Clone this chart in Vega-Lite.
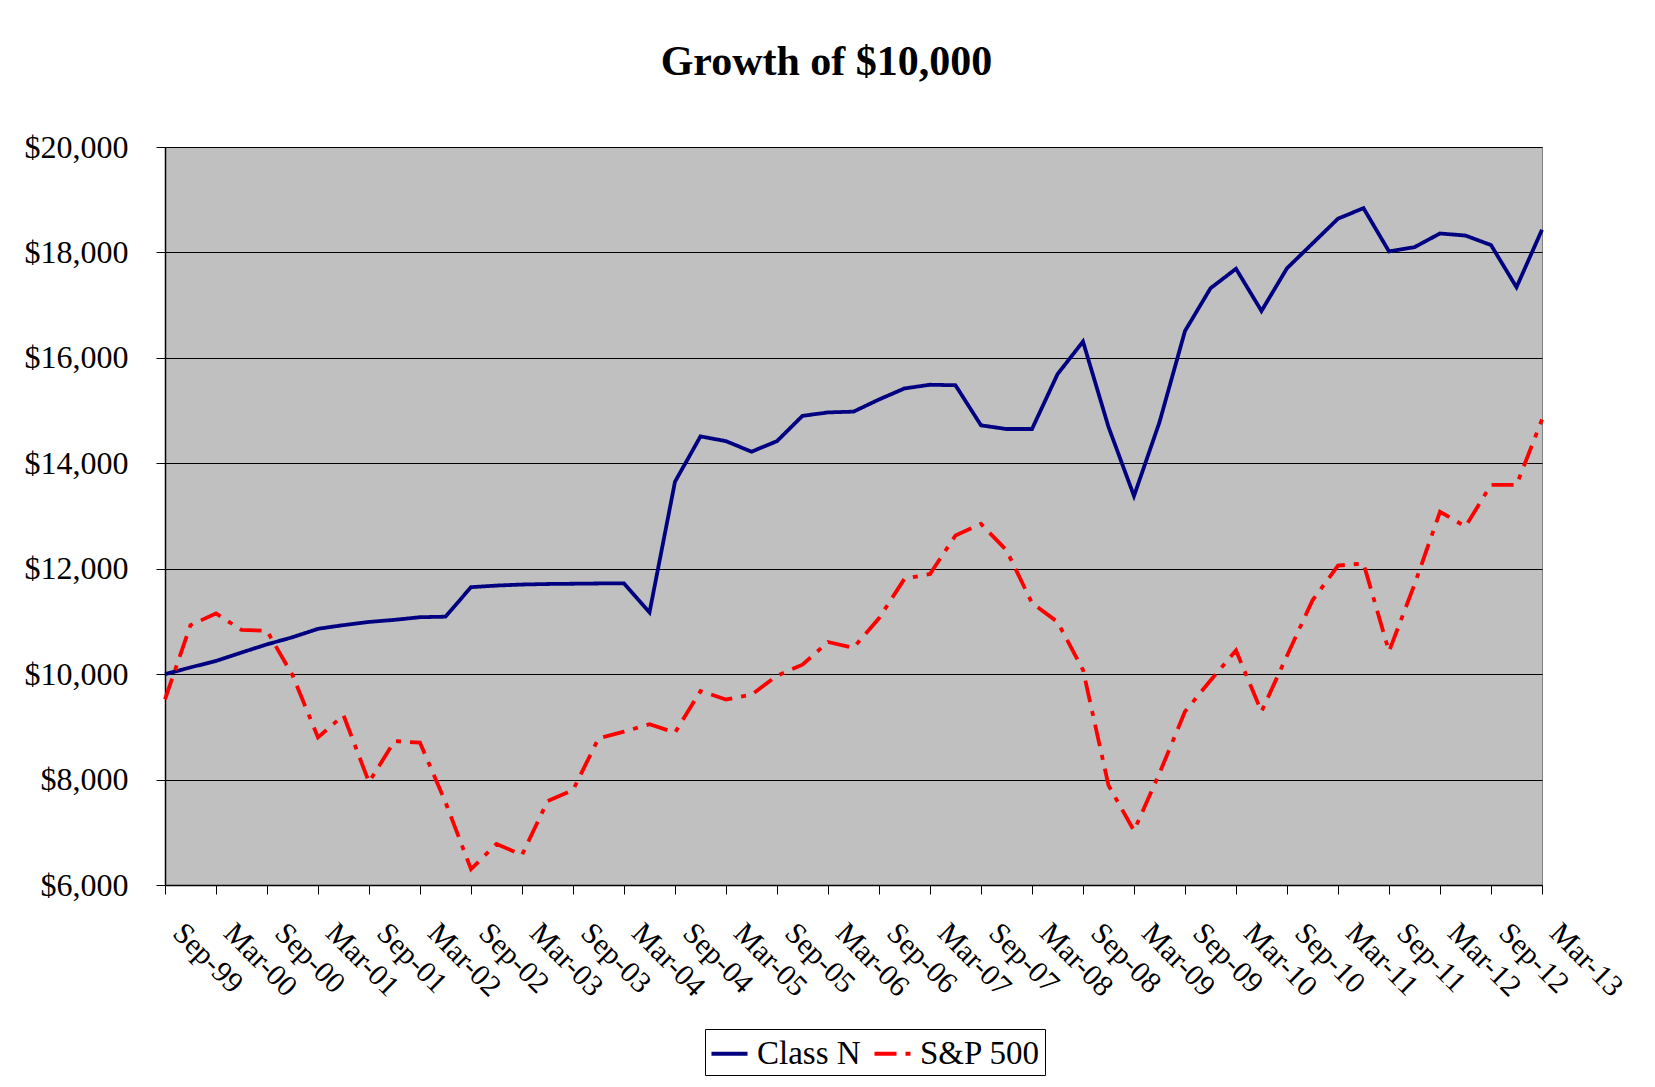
{
  "$schema": "https://vega.github.io/schema/vega-lite/v6.json",
  "width": 1377,
  "height": 738,
  "autosize": {"type": "none"},
  "padding": {"left": 165, "top": 147, "right": 113, "bottom": 202},
  "background": "white",
  "title": {
    "text": "Growth of $10,000",
    "font": "Liberation Serif",
    "fontSize": 42,
    "fontWeight": "bold",
    "color": "black",
    "anchor": "middle",
    "frame": "group",
    "dx": -27,
    "baseline": "alphabetic",
    "offset": 14
  },
  "config": {
    "view": {"fill": "#C0C0C0", "stroke": "#808080", "strokeWidth": 1}
  },
  "data": {
    "values": [
      {"period": "Sep-99", "Class N": 10000, "S&P 500": 9520},
      {"period": "Dec-99", "Class N": 10128, "S&P 500": 10930},
      {"period": "Mar-00", "Class N": 10250, "S&P 500": 11150},
      {"period": "Jun-00", "Class N": 10410, "S&P 500": 10840},
      {"period": "Sep-00", "Class N": 10565, "S&P 500": 10820},
      {"period": "Dec-00", "Class N": 10700, "S&P 500": 9980},
      {"period": "Mar-01", "Class N": 10860, "S&P 500": 8800},
      {"period": "Jun-01", "Class N": 10930, "S&P 500": 9220},
      {"period": "Sep-01", "Class N": 10990, "S&P 500": 7950},
      {"period": "Dec-01", "Class N": 11030, "S&P 500": 8730},
      {"period": "Mar-02", "Class N": 11080, "S&P 500": 8700},
      {"period": "Jun-02", "Class N": 11090, "S&P 500": 7570},
      {"period": "Sep-02", "Class N": 11650, "S&P 500": 6300},
      {"period": "Dec-02", "Class N": 11680, "S&P 500": 6780},
      {"period": "Mar-03", "Class N": 11700, "S&P 500": 6570},
      {"period": "Jun-03", "Class N": 11710, "S&P 500": 7590},
      {"period": "Sep-03", "Class N": 11715, "S&P 500": 7800},
      {"period": "Dec-03", "Class N": 11720, "S&P 500": 8780},
      {"period": "Mar-04", "Class N": 11720, "S&P 500": 8910},
      {"period": "Jun-04", "Class N": 11170, "S&P 500": 9050},
      {"period": "Sep-04", "Class N": 13650, "S&P 500": 8890},
      {"period": "Dec-04", "Class N": 14510, "S&P 500": 9680},
      {"period": "Mar-05", "Class N": 14420, "S&P 500": 9520},
      {"period": "Jun-05", "Class N": 14220, "S&P 500": 9610},
      {"period": "Sep-05", "Class N": 14420, "S&P 500": 9970},
      {"period": "Dec-05", "Class N": 14900, "S&P 500": 10180},
      {"period": "Mar-06", "Class N": 14965, "S&P 500": 10610},
      {"period": "Jun-06", "Class N": 14980, "S&P 500": 10500},
      {"period": "Sep-06", "Class N": 15210, "S&P 500": 11060},
      {"period": "Dec-06", "Class N": 15420, "S&P 500": 11810},
      {"period": "Mar-07", "Class N": 15490, "S&P 500": 11900},
      {"period": "Jun-07", "Class N": 15480, "S&P 500": 12630},
      {"period": "Sep-07", "Class N": 14720, "S&P 500": 12850},
      {"period": "Dec-07", "Class N": 14650, "S&P 500": 12350},
      {"period": "Mar-08", "Class N": 14650, "S&P 500": 11350},
      {"period": "Jun-08", "Class N": 15690, "S&P 500": 10990},
      {"period": "Sep-08", "Class N": 16310, "S&P 500": 10080},
      {"period": "Dec-08", "Class N": 14690, "S&P 500": 7890},
      {"period": "Mar-09", "Class N": 13380, "S&P 500": 7030},
      {"period": "Jun-09", "Class N": 14780, "S&P 500": 8120},
      {"period": "Sep-09", "Class N": 16510, "S&P 500": 9290},
      {"period": "Dec-09", "Class N": 17320, "S&P 500": 9880},
      {"period": "Mar-10", "Class N": 17690, "S&P 500": 10450},
      {"period": "Jun-10", "Class N": 16890, "S&P 500": 9290},
      {"period": "Sep-10", "Class N": 17700, "S&P 500": 10350},
      {"period": "Dec-10", "Class N": 18170, "S&P 500": 11400},
      {"period": "Mar-11", "Class N": 18640, "S&P 500": 12060},
      {"period": "Jun-11", "Class N": 18840, "S&P 500": 12100},
      {"period": "Sep-11", "Class N": 18020, "S&P 500": 10430},
      {"period": "Dec-11", "Class N": 18100, "S&P 500": 11700},
      {"period": "Mar-12", "Class N": 18360, "S&P 500": 13080},
      {"period": "Jun-12", "Class N": 18320, "S&P 500": 12800},
      {"period": "Sep-12", "Class N": 18140, "S&P 500": 13590},
      {"period": "Dec-12", "Class N": 17340, "S&P 500": 13590},
      {"period": "Mar-13", "Class N": 18430, "S&P 500": 14830}
    ]
  },
  "transform": [{"fold": ["Class N", "S&P 500"], "as": ["series", "value"]}],
  "mark": {"type": "line", "strokeWidth": 3.8},
  "encoding": {
    "x": {
      "field": "period",
      "type": "ordinal",
      "sort": null,
      "scale": {"type": "point", "padding": 0},
      "axis": {
        "title": null,
        "values": ["Sep-99","Mar-00","Sep-00","Mar-01","Sep-01","Mar-02","Sep-02","Mar-03","Sep-03","Mar-04","Sep-04","Mar-05","Sep-05","Mar-06","Sep-06","Mar-07","Sep-07","Mar-08","Sep-08","Mar-09","Sep-09","Mar-10","Sep-10","Mar-11","Sep-11","Mar-12","Sep-12","Mar-13"],
        "labelAngle": 45,
        "labelAlign": "left",
        "labelBaseline": "middle",
        "labelFont": "Liberation Serif",
        "labelFontSize": 30,
        "labelColor": "black",
        "labelPadding": 34,
        "labelOffset": 12,
        "labelOverlap": false,
        "tickColor": "black",
        "tickSize": 9,
        "tickWidth": 1,
        "domainColor": "black",
        "domainWidth": 1.5,
        "grid": false
      }
    },
    "y": {
      "field": "value",
      "type": "quantitative",
      "scale": {"domain": [6000, 20000], "nice": false, "zero": false},
      "axis": {
        "title": null,
        "values": [6000, 8000, 10000, 12000, 14000, 16000, 18000, 20000],
        "format": "$,.0f",
        "labelFont": "Liberation Serif",
        "labelFontSize": 32,
        "labelColor": "black",
        "labelPadding": 28,
        "tickColor": "black",
        "tickSize": 9,
        "domainColor": "black",
        "domainWidth": 1.5,
        "grid": true,
        "gridColor": "black",
        "gridWidth": 1
      }
    },
    "color": {
      "field": "series",
      "type": "nominal",
      "scale": {"domain": ["Class N", "S&P 500"], "range": ["#000080", "#FF0000"]},
      "legend": {
        "title": null,
        "orient": "none",
        "legendX": 540,
        "legendY": 882,
        "direction": "horizontal",
        "strokeColor": "black",
        "fillColor": "white",
        "padding": 4,
        "labelFont": "Liberation Serif",
        "labelFontSize": 33,
        "labelColor": "black",
        "symbolType": "stroke",
        "symbolSize": 1300,
        "symbolStrokeWidth": 4,
        "labelOffset": 7,
        "columnPadding": 5
      }
    },
    "strokeDash": {
      "field": "series",
      "type": "nominal",
      "scale": {"domain": ["Class N", "S&P 500"], "range": [[1, 0], [22, 9, 5, 9]]},
      "legend": {
        "title": null,
        "orient": "none",
        "legendX": 540,
        "legendY": 882,
        "direction": "horizontal",
        "strokeColor": "black",
        "fillColor": "white",
        "padding": 4,
        "labelFont": "Liberation Serif",
        "labelFontSize": 33,
        "labelColor": "black",
        "symbolType": "stroke",
        "symbolSize": 1300,
        "symbolStrokeWidth": 4,
        "labelOffset": 7,
        "columnPadding": 5
      }
    }
  }
}
